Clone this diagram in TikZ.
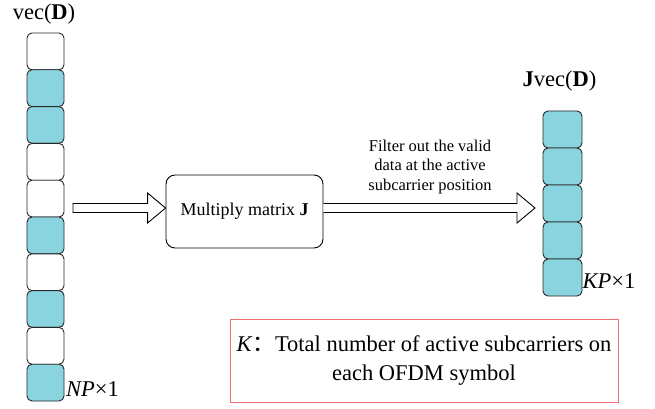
\documentclass[tikz,border=0pt]{standalone}
\usepackage{fontspec}
\setmainfont{Liberation Serif}
\newfontfamily\cjk{Noto Sans CJK SC}
\usetikzlibrary{calc}
\definecolor{tealcell}{RGB}{138,212,224}
\definecolor{legred}{RGB}{238,112,112}
\definecolor{cellline}{RGB}{40,40,40}
\begin{document}
\begin{tikzpicture}[x=1pt,y=-1pt,
  cellbox/.style={draw=cellline, line width=0.9pt, rounded corners=5pt, minimum width=37pt, minimum height=36.8pt, inner sep=0pt, outer sep=0pt},
  rcellbox/.style={cellbox, fill=tealcell, minimum width=39pt, minimum height=37pt},
  mulbox/.style={draw=black, line width=0.9pt, rounded corners=9pt, minimum width=157pt, minimum height=73pt, inner sep=0pt, font=\fontsize{18}{21}\selectfont},
  hollow/.style={draw=black, line width=0.9pt, fill=white, line join=miter},
  bigtext/.style={font=\fontsize{22.5}{27}\selectfont, inner sep=0pt},
  arrowlabel/.style={font=\fontsize{16.5}{19.5}\selectfont, align=center, inner sep=0pt},
  legbox/.style={draw=legred, line width=0.9pt, minimum width=388pt, minimum height=83pt, inner sep=0pt, align=center, font=\fontsize{22.5}{29}\selectfont}
]
\useasboundingbox (0,0) rectangle (655,409);

% left column
\foreach \c [count=\i] in {white,tealcell,tealcell,white,white,tealcell,white,tealcell,white,tealcell}
  \node[cellbox, fill=\c] (l\i) at (45.5, {33+36.8*(\i-0.5)}) {};
% right column
\foreach \i in {1,...,5}
  \node[rcellbox] (r\i) at (562.5, {111+37*(\i-0.5)}) {};

% titles and sizes
\node[bigtext, anchor=base] (tl) at (44,20) {vec(\textbf{D})};
\node[bigtext, anchor=base] (tr) at (559.5,87) {\textbf{J}vec(\textbf{D})};
\node[bigtext, anchor=base west] (np) at (66,396) {\textit{NP}×1};
\node[bigtext, anchor=base west] (kp) at (582.5,288) {\textit{KP}×1};

% middle box
\node[mulbox] (mul) at (244.5,211.5) {Multiply matrix \textbf{J}};

% arrows
\coordinate (t1) at (73,208);
\coordinate (h1) at (mul.west |- t1);
\coordinate (t2) at (mul.east |- t1);
\coordinate (h2) at ($(r3.west |- t1)+(-8,0)$);
\draw[hollow] ($(t1)+(0,-4.5)$) -- ($(h1)+(-18,-4.5)$) -- ($(h1)+(-18,-15)$) -- (h1)
  -- ($(h1)+(-18,15)$) -- ($(h1)+(-18,4.5)$) -- ($(t1)+(0,4.5)$) -- cycle;
\draw[hollow] ($(t2)+(0,-4.5)$) -- ($(h2)+(-18,-4.5)$) -- ($(h2)+(-18,-15)$) -- (h2)
  -- ($(h2)+(-18,15)$) -- ($(h2)+(-18,4.5)$) -- ($(t2)+(0,4.5)$);
\node[arrowlabel] (lab) at (430,167) {Filter out the valid\\data at the active\\subcarrier position};

% legend
\node[legbox] (leg) at (424,360.5) {\textit{K}{\cjk ：}Total number of active subcarriers on\\each OFDM symbol};
\end{tikzpicture}
\end{document}
